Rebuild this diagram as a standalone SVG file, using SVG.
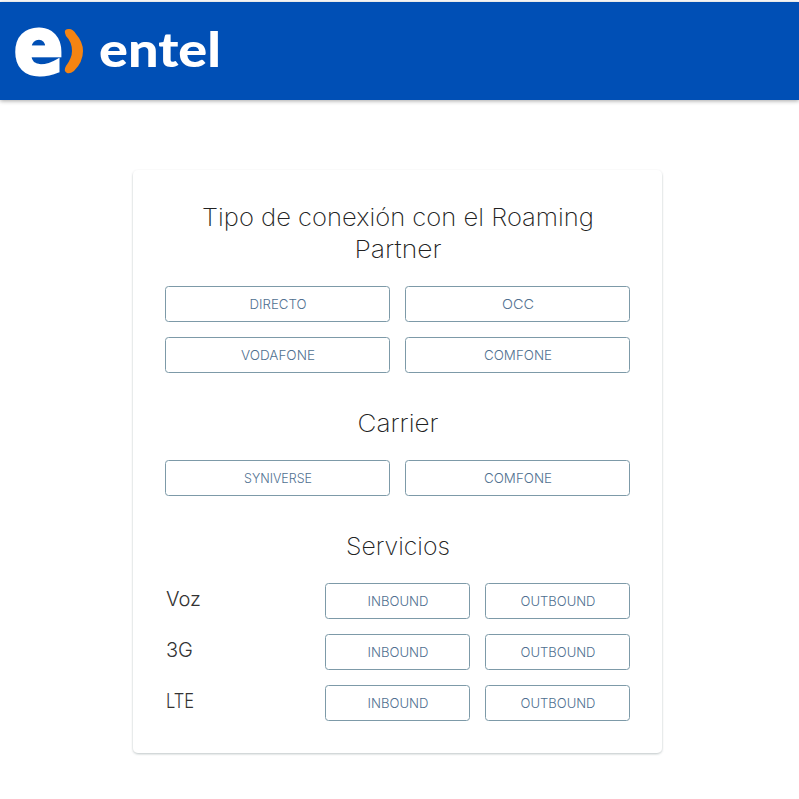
<svg xmlns="http://www.w3.org/2000/svg" width="799" height="799" viewBox="0 0 799 799">
<defs>
<filter id="hs" x="-5%" y="-20%" width="110%" height="140%"><feDropShadow dx="0" dy="1" stdDeviation="2" flood-color="#000" flood-opacity="0.35"/></filter>
<filter id="cs" x="-5%" y="-5%" width="110%" height="110%"><feDropShadow dx="0" dy="1" stdDeviation="1.2" flood-color="#5a6a70" flood-opacity="0.4"/></filter>
</defs>
<style>
text{font-family:"Inter","Liberation Sans",sans-serif}
.h{font-size:24px;font-weight:200;fill:#222;text-anchor:middle}
.l{font-size:20px;font-weight:300;fill:#333}
.b rect{fill:#fff;stroke:#7d9aa8;stroke-width:1}
.b text{font-size:13.5px;font-weight:300;fill:#4f7090;text-anchor:middle}
</style>
<rect width="799" height="799" fill="#fff"/>
<g id="header">
<rect x="0" y="2" width="799" height="98" fill="#0050b5" filter="url(#hs)"/>
<text x="13.500" y="74" style="font-family:'DejaVu Sans',sans-serif;font-weight:700;font-size:80px" fill="#fff" stroke="#fff" stroke-width="3" textLength="50" lengthAdjust="spacingAndGlyphs">e</text>
<path d="M65 33 Q64 29 69 29 Q73 29 76 34 Q83 42 83 51 Q83 62 74 71 Q70 74 67 73 Q63 71 66 66 Q72 58 72 51 Q72 42 66 36 Z" fill="#f58412"/>
<text x="99" y="67" style="font-family:'Lato',sans-serif;font-weight:900;font-size:47px" fill="#fff" textLength="122" lengthAdjust="spacingAndGlyphs">entel</text>
</g>
<g id="card">
<rect x="133" y="170" width="529" height="583" rx="5" fill="#fff" filter="url(#cs)"/>
</g>
<g id="titles">
<text class="h" x="398" y="226" textLength="392" lengthAdjust="spacingAndGlyphs">Tipo de conexión con el Roaming</text>
<text class="h" x="398" y="258" textLength="87" lengthAdjust="spacingAndGlyphs">Partner</text>
<text class="h" x="398" y="432" textLength="81" lengthAdjust="spacingAndGlyphs">Carrier</text>
<text class="h" x="398" y="555" textLength="104" lengthAdjust="spacingAndGlyphs">Servicios</text>
</g>
<g id="row-labels">
<text class="l" x="166" y="606" textLength="35" lengthAdjust="spacingAndGlyphs">Voz</text>
<text class="l" x="166" y="657" textLength="27" lengthAdjust="spacingAndGlyphs">3G</text>
<text class="l" x="166" y="708" textLength="28" lengthAdjust="spacingAndGlyphs">LTE</text>
</g>
<g id="btn-directo" class="b"><rect x="165.500" y="286.500" width="224" height="35" rx="3"/><text x="278" y="309" textLength="57" lengthAdjust="spacingAndGlyphs">DIRECTO</text></g>
<g id="btn-occ" class="b"><rect x="405.500" y="286.500" width="224" height="35" rx="3"/><text x="518" y="309" textLength="32" lengthAdjust="spacingAndGlyphs">OCC</text></g>
<g id="btn-vodafone" class="b"><rect x="165.500" y="337.500" width="224" height="35" rx="3"/><text x="278" y="360" textLength="74" lengthAdjust="spacingAndGlyphs">VODAFONE</text></g>
<g id="btn-comfone-1" class="b"><rect x="405.500" y="337.500" width="224" height="35" rx="3"/><text x="518" y="360" textLength="68" lengthAdjust="spacingAndGlyphs">COMFONE</text></g>
<g id="btn-syniverse" class="b"><rect x="165.500" y="460.500" width="224" height="35" rx="3"/><text x="278" y="483" textLength="68" lengthAdjust="spacingAndGlyphs">SYNIVERSE</text></g>
<g id="btn-comfone-2" class="b"><rect x="405.500" y="460.500" width="224" height="35" rx="3"/><text x="518" y="483" textLength="68" lengthAdjust="spacingAndGlyphs">COMFONE</text></g>
<g id="btn-voz-in" class="b"><rect x="325.500" y="583.500" width="144" height="35" rx="3"/><text x="398" y="606" textLength="61" lengthAdjust="spacingAndGlyphs">INBOUND</text></g>
<g id="btn-voz-out" class="b"><rect x="485.500" y="583.500" width="144" height="35" rx="3"/><text x="558" y="606" textLength="75" lengthAdjust="spacingAndGlyphs">OUTBOUND</text></g>
<g id="btn-3g-in" class="b"><rect x="325.500" y="634.500" width="144" height="35" rx="3"/><text x="398" y="657" textLength="61" lengthAdjust="spacingAndGlyphs">INBOUND</text></g>
<g id="btn-3g-out" class="b"><rect x="485.500" y="634.500" width="144" height="35" rx="3"/><text x="558" y="657" textLength="75" lengthAdjust="spacingAndGlyphs">OUTBOUND</text></g>
<g id="btn-lte-in" class="b"><rect x="325.500" y="685.500" width="144" height="35" rx="3"/><text x="398" y="708" textLength="61" lengthAdjust="spacingAndGlyphs">INBOUND</text></g>
<g id="btn-lte-out" class="b"><rect x="485.500" y="685.500" width="144" height="35" rx="3"/><text x="558" y="708" textLength="75" lengthAdjust="spacingAndGlyphs">OUTBOUND</text></g>
</svg>
